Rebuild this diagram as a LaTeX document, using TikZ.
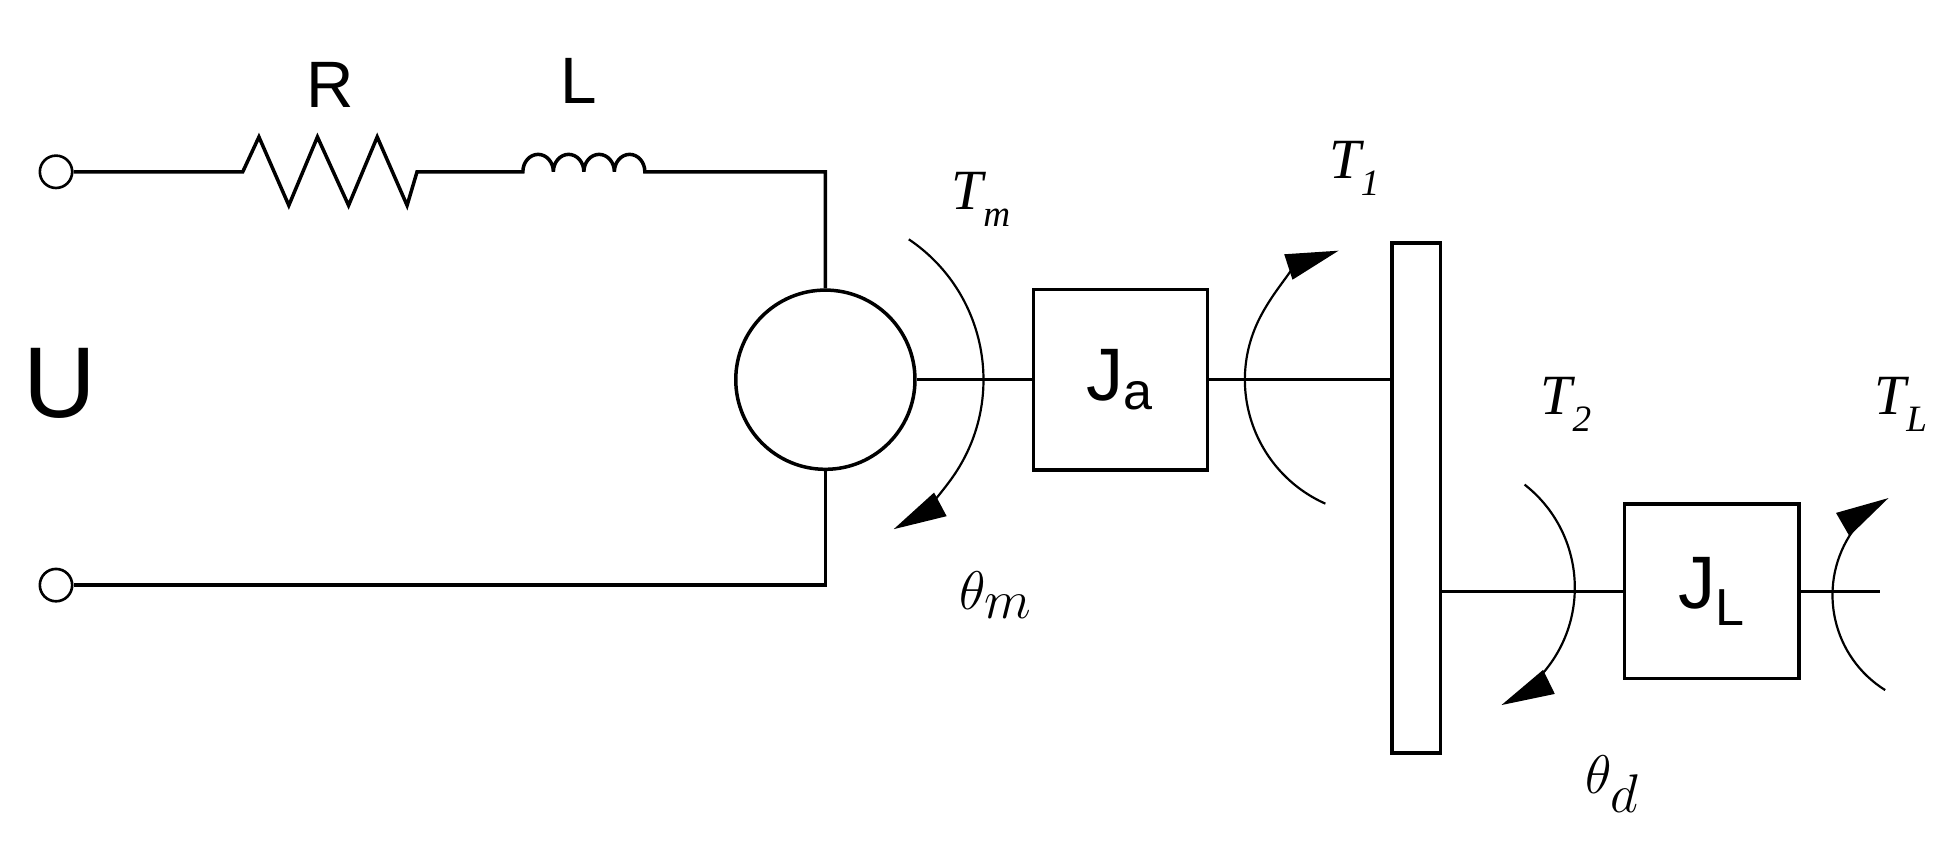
\documentclass[tikz,border=0pt]{standalone}
\usepackage{fontspec}
\setmainfont{Liberation Sans}
\newfontfamily\tms{Liberation Serif}
\usetikzlibrary{arrows.meta}
\begin{document}
\begin{tikzpicture}[x=0.02cm,y=-0.02cm,
  wire/.style={line width=1.6pt},
  tq/.style={line width=1pt,-{Triangle[length=0.85cm,width=0.42cm]}},
  lab/.style={font=\fontsize{30}{34}\selectfont},
  ml/.style={font=\tms\itshape\fontsize{26}{30}\selectfont},
  box/.style={draw,line width=1.6pt,minimum width=2.8cm,minimum height=2.9cm,inner sep=0pt}]
\useasboundingbox (0,0) rectangle (1568,684);
\node[draw,circle,line width=1.2pt,minimum size=0.52cm,inner sep=0pt] (t1) at (45,138) {};
\node[draw,circle,line width=1.2pt,minimum size=0.52cm,inner sep=0pt] (t2) at (45,470) {};
\node[draw,circle,line width=1.6pt,minimum size=2.88cm,inner sep=0pt] (M) at (663,305) {};
\node[box] (Ja) at (900,305) {\fontsize{34}{38}\selectfont J\textsubscript{a}};
\node[box,minimum height=2.8cm] (JL) at (1375,475) {\fontsize{34}{38}\selectfont J\textsubscript{L}};
\node[draw,line width=1.6pt,minimum width=0.78cm,minimum height=8.2cm,inner sep=0pt] (G) at (1137.5,400) {};
\coordinate (r1) at (195,138); \coordinate (r2) at (335,138);
\coordinate (l1) at (420,138); \coordinate (l2) at (518,138);
\coordinate (c1) at (663,138); \coordinate (c2) at (663,470);
\coordinate (se) at (1510,475);
\draw[wire] (t1) -- (r1) -- (208,110) -- (232,165) -- (255,110) -- (280,165) -- (303,110) -- (327,165) -- (r2) -- (l1)
  arc[start angle=180,end angle=360,x radius=12.25,y radius=14]
  arc[start angle=180,end angle=360,x radius=12.25,y radius=14]
  arc[start angle=180,end angle=360,x radius=12.25,y radius=14]
  arc[start angle=180,end angle=360,x radius=12.25,y radius=14] -- (l2) -- (c1) -- (M.north);
\draw[wire] (M.south) -- (c2) -- (t2);
\draw[wire] (M.east) -- (Ja.west);
\draw[wire] (Ja.east) -- (Ja.east -| G.west);
\draw[wire] (JL.west -| G.east) -- (JL.west);
\draw[wire] (JL.east) -- (se);
\draw[tq] (654,305) ++(-56:136) arc[start angle=-56,end angle=62,radius=136];
\draw[tq] (1109,305) ++(114:109) arc[start angle=114,end angle=252,radius=109];
\draw[tq] (1160,472) ++(-52:105) arc[start angle=-52,end angle=64,radius=105];
\draw[tq] (1562,478) ++(122:90) arc[start angle=122,end angle=240,radius=90];
\node[lab] at (265,68) {R};
\node[lab] at (465,65) {L};
\node[font=\fontsize{46}{50}\selectfont] at (48,308) {U};
\node[ml] at (788,160) {T\raisebox{-0.3em}{\fontsize{17}{20}\selectfont m}};
\node[ml] at (1088,135) {T\raisebox{-0.3em}{\fontsize{17}{20}\selectfont 1}};
\node[ml] at (1258,325) {T\raisebox{-0.3em}{\fontsize{17}{20}\selectfont 2}};
\node[ml] at (1527,325) {T\raisebox{-0.3em}{\fontsize{17}{20}\selectfont L}};
\node[font=\fontsize{36}{40}\selectfont] at (800,478) {$\theta_m$};
\node[font=\fontsize{36}{40}\selectfont] at (1295,630) {$\theta_d$};
\end{tikzpicture}
\end{document}
